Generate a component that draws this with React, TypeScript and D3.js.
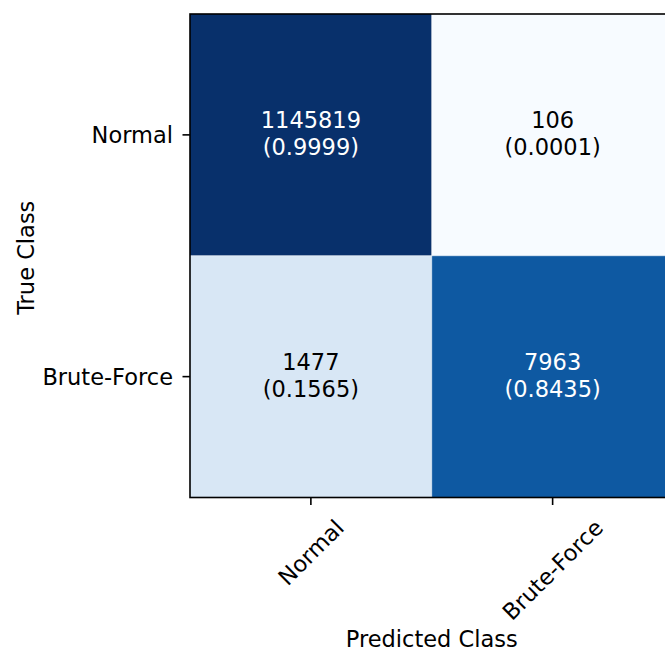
import React, { useEffect, useRef } from "react";
import * as d3 from "d3";

const classes = ["Normal", "Brute-Force"];
const counts = [
  [1145819, 106],
  [1477, 7963],
];
const bluesStops = ["#f7fbff", "#deebf7", "#c6dbef", "#9ecae1", "#6baed6", "#4292c6", "#2171b5", "#08519c", "#08306b"];
const xLabel = "Predicted Class";
const yLabel = "True Class";

const W = 665;
const H = 653;
const FONT = "'DejaVu Sans', sans-serif";
const FS = 22.5;

export default function App() {
  const ref = useRef<SVGSVGElement>(null);
  useEffect(() => {
    const svg = d3.select(ref.current);
    svg.selectAll("*").remove();
    const x0 = 190, y0 = 14, size = 483.5;
    const x = d3.scaleBand().domain(classes).range([x0, x0 + size]);
    const y = d3.scaleBand().domain(classes).range([y0, y0 + size]);
    const color = d3
      .scaleLinear<string>()
      .domain(bluesStops.map((_, i) => i / (bluesStops.length - 1)))
      .range(bluesStops)
      .interpolate(d3.interpolateRgb);

    const norm = counts.map((row) => {
      const s = d3.sum(row);
      return row.map((v) => v / s);
    });
    const cells: { r: number; c: number; v: number; n: number }[] = [];
    counts.forEach((row, r) => row.forEach((v, c) => cells.push({ r, c, v, n: norm[r][c] })));

    const g = svg.append("g");
    g.selectAll("rect.cell")
      .data(cells)
      .join("rect")
      .attr("x", (d) => x(classes[d.c])!)
      .attr("y", (d) => y(classes[d.r])!)
      .attr("width", x.bandwidth())
      .attr("height", y.bandwidth())
      .attr("fill", (d) => color(d.n));

    // faint antialiasing seams between cells
    g.append("line")
      .attr("x1", x(classes[1])!).attr("x2", x(classes[1])!)
      .attr("y1", y0).attr("y2", y0 + size)
      .attr("stroke", "#ffffff").attr("stroke-opacity", 0.45).attr("stroke-width", 1);
    g.append("line")
      .attr("x1", x0).attr("x2", x0 + size)
      .attr("y1", y(classes[1])!).attr("y2", y(classes[1])!)
      .attr("stroke", "#ffffff").attr("stroke-opacity", 0.45).attr("stroke-width", 1);

    const txt = g.selectAll("text.cell")
      .data(cells)
      .join("text")
      .attr("font-family", FONT)
      .attr("font-size", FS)
      .attr("text-anchor", "middle")
      .attr("fill", (d) => (d.n > 0.5 ? "#ffffff" : "#000000"));
    txt.append("tspan")
      .attr("x", (d) => x(classes[d.c])! + x.bandwidth() / 2)
      .attr("y", (d) => y(classes[d.r])! + y.bandwidth() / 2 - 6.8)
      .text((d) => String(d.v));
    txt.append("tspan")
      .attr("x", (d) => x(classes[d.c])! + x.bandwidth() / 2)
      .attr("y", (d) => y(classes[d.r])! + y.bandwidth() / 2 + 20.2)
      .text((d) => `(${d.n.toFixed(4)})`);

    // spines
    g.append("rect")
      .attr("x", x0).attr("y", y0).attr("width", size).attr("height", size)
      .attr("fill", "none").attr("stroke", "#000").attr("stroke-width", 1.6);

    // y ticks
    classes.forEach((cl) => {
      const cy = y(cl)! + y.bandwidth() / 2;
      g.append("line").attr("x1", x0 - 7.5).attr("x2", x0).attr("y1", cy).attr("y2", cy)
        .attr("stroke", "#000").attr("stroke-width", 1.6);
      g.append("text").attr("x", x0 - 17).attr("y", cy + 8.5)
        .attr("font-family", FONT).attr("font-size", FS).attr("text-anchor", "end")
        .attr("fill", "#000").text(cl);
    });

    // x ticks
    classes.forEach((cl) => {
      const cx = x(cl)! + x.bandwidth() / 2;
      const yb = y0 + size;
      g.append("line").attr("x1", cx).attr("x2", cx).attr("y1", yb).attr("y2", yb + 7.5)
        .attr("stroke", "#000").attr("stroke-width", 1.6);
      const t = g.append("text")
        .attr("font-family", FONT).attr("font-size", FS).attr("text-anchor", "middle")
        .attr("dominant-baseline", "central")
        .attr("fill", "#000").text(cl);
      const w = (t.node() as SVGTextElement).getComputedTextLength();
      const h = FS * 0.76;
      const half = (w + h) / (2 * Math.SQRT2);
      const top = yb + 20;
      t.attr("transform", `translate(${cx},${top + half}) rotate(-45)`);
    });

    // axis labels
    g.append("text").attr("x", x0 + size / 2).attr("y", 647)
      .attr("font-family", FONT).attr("font-size", FS).attr("text-anchor", "middle")
      .attr("fill", "#000").text(xLabel);
    g.append("text").attr("transform", `translate(34,${y0 + size / 2 + 2}) rotate(-90)`)
      .attr("font-family", FONT).attr("font-size", FS).attr("text-anchor", "middle")
      .attr("fill", "#000").text(yLabel);
  }, []);
  return (
    <svg
      ref={ref}
      width={W}
      height={H}
      style={{ position: "absolute", left: 0, top: 0, background: "#fff" }}
    />
  );
}
